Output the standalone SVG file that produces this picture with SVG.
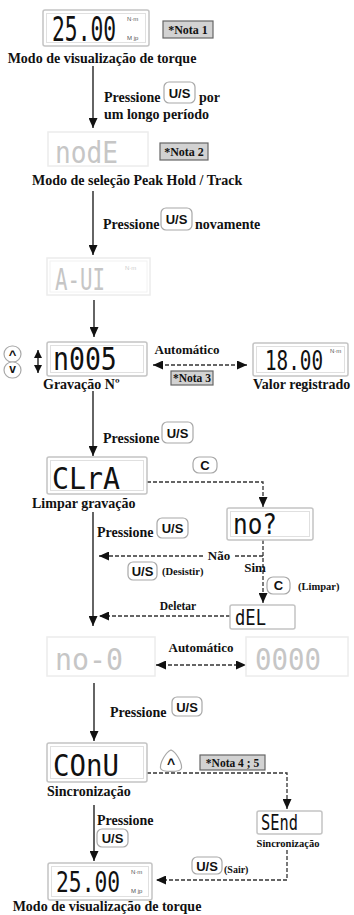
<svg xmlns="http://www.w3.org/2000/svg" width="354" height="915" viewBox="0 0 354 915">
<style>
.bg{fill:#fff}
.lcd{fill:#fff;stroke:#c4c4c4;stroke-width:1.5}
.lcdi{fill:none;stroke:#e0e0e0;stroke-width:1}
.lcdf{fill:#fff;stroke:#ececec;stroke-width:1.5}
.seg{font-family:"DejaVu Sans Mono",monospace;fill:#111}
.segf{font-family:"DejaVu Sans Mono",monospace;fill:#c6c6c6}
.unit{font-family:"Liberation Sans",sans-serif;font-size:6px;fill:#555}
.lbl{font-family:"Liberation Serif",serif;font-weight:bold;font-size:14px;fill:#111}
.sm{font-family:"Liberation Serif",serif;font-weight:bold;font-size:10.5px;fill:#111}
.note{fill:#d2d2d2;stroke:#666;stroke-width:1.2}
.nt{font-family:"Liberation Serif",serif;font-weight:bold;font-size:12px;fill:#111;text-anchor:middle}
.key{fill:#fff;stroke:#a8a8a8;stroke-width:1.2}
.kt{font-family:"Liberation Sans",sans-serif;font-weight:bold;font-size:13px;fill:#111;text-anchor:middle}
.solid{stroke:#111;stroke-width:1.3;fill:none}
.dash{stroke:#333;stroke-width:1.3;stroke-dasharray:4 2;fill:none}
</style>
<defs>
<marker id="ah" markerUnits="userSpaceOnUse" markerWidth="10" markerHeight="9" refX="10" refY="4.5" orient="auto-start-reverse">
<path d="M0,0 L10,4.5 L0,9 z" fill="#111"/>
</marker>
<marker id="ahs" markerUnits="userSpaceOnUse" markerWidth="8" markerHeight="8" refX="8" refY="4" orient="auto-start-reverse">
<path d="M0,0 L8,4 L0,8 z" fill="#111"/>
</marker>
</defs>
<rect class="bg" x="0" y="0" width="354" height="915"/>

<g id="connectors">
<line class="solid" x1="93" y1="66" x2="93" y2="128" marker-end="url(#ah)"/>
<line class="solid" x1="93" y1="191" x2="93" y2="255" marker-end="url(#ah)"/>
<line class="solid" x1="94" y1="300" x2="94" y2="337" marker-end="url(#ah)"/>
<line class="solid" x1="38" y1="350" x2="38" y2="373" marker-start="url(#ahs)" marker-end="url(#ahs)"/>
<line class="dash" x1="153" y1="365" x2="247" y2="365" marker-start="url(#ah)" marker-end="url(#ah)"/>
<line class="solid" x1="93" y1="391" x2="93" y2="456" marker-end="url(#ah)"/>
<path class="dash" d="M147,482 H263 V507" marker-end="url(#ah)"/>
<line class="solid" x1="93" y1="512" x2="93" y2="626" marker-end="url(#ah)"/>
<line class="dash" x1="263" y1="540" x2="263" y2="603" marker-end="url(#ah)"/>
<line class="dash" x1="263" y1="556" x2="99" y2="556" marker-end="url(#ah)"/>
<line class="dash" x1="230" y1="616" x2="99" y2="616" marker-end="url(#ah)"/>
<line class="dash" x1="156" y1="665" x2="246" y2="665" marker-start="url(#ah)" marker-end="url(#ah)"/>
<line class="solid" x1="94" y1="683" x2="94" y2="741" marker-end="url(#ah)"/>
<path class="dash" d="M147,773 H287 V809" marker-end="url(#ah)"/>
<line class="solid" x1="94" y1="805" x2="94" y2="861" marker-end="url(#ah)"/>
<path class="dash" d="M287,850 V880 H156" marker-end="url(#ah)"/>

<text class="lbl" x="104" y="102">Pressione</text>
<rect class="key" x="164" y="82" width="31" height="21" rx="5"/>
<text class="kt" x="179.5" y="97.5">U/S</text>
<text class="lbl" x="199" y="102">por</text>
<text class="lbl" x="104" y="119">um longo período</text>

<text class="lbl" x="103" y="229">Pressione</text>
<rect class="key" x="161" y="208" width="31" height="22" rx="5"/>
<text class="kt" x="176.5" y="224">U/S</text>
<text class="lbl" x="195" y="229">novamente</text>

<text class="lbl" x="187" y="354" text-anchor="middle" style="font-size:13px">Automático</text>

<text class="lbl" x="103" y="443">Pressione</text>
<rect class="key" x="162" y="422" width="31" height="21" rx="5"/>
<text class="kt" x="177.5" y="437.5">U/S</text>

<rect class="key" x="193" y="457" width="24" height="16" rx="6"/>
<text class="kt" x="205" y="469.5">C</text>

<text class="lbl" x="97" y="537">Pressione</text>
<rect class="key" x="157" y="518" width="31" height="20" rx="5"/>
<text class="kt" x="172.5" y="533">U/S</text>

<rect x="205" y="548" width="28" height="14" fill="#fff"/>
<text class="lbl" x="219" y="560" text-anchor="middle" style="font-size:13px">Não</text>
<rect class="key" x="128" y="562" width="29" height="18" rx="5"/>
<text class="kt" x="142.5" y="576">U/S</text>
<text class="sm" x="162" y="575">(Desistir)</text>
<text class="lbl" x="255" y="572" text-anchor="middle" style="font-size:13px">Sim</text>
<rect class="key" x="267" y="577" width="23" height="17" rx="6"/>
<text class="kt" x="278.5" y="590">C</text>
<text class="sm" x="298" y="590">(Limpar)</text>
<text class="lbl" x="178" y="610" text-anchor="middle" style="font-size:11.5px">Deletar</text>

<text class="lbl" x="201" y="652" text-anchor="middle" style="font-size:13px">Automático</text>

<text class="lbl" x="110" y="717">Pressione</text>
<rect class="key" x="172" y="697" width="30" height="19" rx="5"/>
<text class="kt" x="187" y="711.5">U/S</text>

<path class="key" d="M171,750 C176,752 182,762 181.5,768 C181,772.5 161,772.5 160.5,768 C160,762 166,752 171,750 Z"/>
<text class="kt" x="171" y="769" style="font-size:14px">^</text>

<text class="lbl" x="97" y="825">Pressione</text>
<rect class="key" x="97" y="829" width="31" height="18" rx="5"/>
<text class="kt" x="112.5" y="843">U/S</text>

<rect class="key" x="192" y="857" width="30" height="17" rx="5"/>
<text class="kt" x="207" y="870.5">U/S</text>
<text class="sm" x="224" y="873" style="font-size:10px">(Sair)</text>
</g>

<g id="n-torque1">
<rect class="lcd" x="43" y="10" width="106" height="36" rx="2"/>
<rect class="lcdi" x="46.5" y="13.5" width="99" height="29"/>
<text class="seg" transform="translate(52,41) scale(1,1.6)" font-size="21.3">25.00</text>
<text class="unit" x="127" y="21">N·m</text>
<text class="unit" x="127" y="40">M jp</text>
<text class="lbl" x="102" y="63" text-anchor="middle">Modo de visualização de torque</text>
</g>
<g id="n-nota1">
<rect class="note" x="163" y="21" width="50" height="17"/>
<text class="nt" x="188" y="34">*Nota 1</text>
</g>

<g id="n-mode">
<rect class="lcdf" x="48" y="132" width="100" height="34"/>
<text class="segf" x="55" y="163" font-size="30" textLength="63" lengthAdjust="spacingAndGlyphs">nodE</text>
<text class="lbl" x="32" y="185">Modo de seleção Peak Hold / Track</text>
</g>
<g id="n-nota2">
<rect class="note" x="160" y="143" width="48" height="17"/>
<text class="nt" x="184" y="156">*Nota 2</text>
</g>

<g id="n-aui">
<rect class="lcdf" x="47" y="258" width="103" height="37"/>
<rect fill="none" stroke="#f2f2f2" x="50" y="261" width="97" height="31"/>
<text class="segf" transform="translate(55,290) scale(1,1.45)" font-size="20.8">A-UI</text>
<text class="unit" x="125" y="270" style="fill:#ccc">N·m</text>
</g>

<g id="n-record">
<rect class="lcd" x="47" y="342" width="100" height="34" rx="2"/>
<rect class="lcdi" x="50.5" y="345.5" width="93" height="27"/>
<text class="seg" transform="translate(53,370) scale(1,1.2)" font-size="26.5">n005</text>
<text class="lbl" x="43" y="389">Gravação Nº</text>
<rect class="key" x="4" y="346" width="17" height="16" rx="8"/>
<text class="kt" x="12.5" y="359" style="font-size:13px">^</text>
<rect class="key" x="4" y="362" width="17" height="16" rx="8"/>
<text class="kt" x="12.5" y="373" style="font-size:12px">v</text>
</g>

<g id="n-nota3">
<rect class="note" x="171" y="371" width="42" height="14"/>
<text class="nt" x="192" y="382" style="font-size:11.5px">*Nota 3</text>
</g>

<g id="n-value">
<rect class="lcd" x="253" y="343" width="95" height="33" rx="2"/>
<rect class="lcdi" x="256.5" y="346.5" width="88" height="26"/>
<text class="seg" transform="translate(265,370) scale(1,1.4)" font-size="19.3">18.00</text>
<text class="unit" x="330" y="353">N·m</text>
<text class="lbl" x="253" y="389">Valor registrado</text>
</g>

<g id="n-clear">
<rect class="lcd" x="47" y="457" width="100" height="37" rx="2"/>
<rect class="lcdi" x="50.5" y="460.5" width="93" height="30"/>
<text class="seg" x="52" y="489" font-size="30" textLength="68" lengthAdjust="spacingAndGlyphs">CLrA</text>
<text class="lbl" x="32" y="508">Limpar gravação</text>
</g>

<g id="n-no">
<rect class="lcd" x="227" y="508" width="86" height="32" rx="2"/>
<rect class="lcdi" x="230.5" y="511.5" width="79" height="25"/>
<text class="seg" x="233" y="534" font-size="28" textLength="44" lengthAdjust="spacingAndGlyphs">no?</text>
</g>

<g id="n-del">
<rect class="lcd" x="230" y="605" width="65" height="24" rx="2"/>
<text class="seg" x="235" y="625" font-size="22" textLength="31" lengthAdjust="spacingAndGlyphs">dEL</text>
</g>

<g id="n-no0">
<rect class="lcdf" x="47" y="637" width="108" height="39"/>
<text class="segf" x="55" y="670" font-size="30" textLength="68" lengthAdjust="spacingAndGlyphs">no-0</text>
</g>

<g id="n-zero">
<rect class="lcdf" x="246" y="637" width="102" height="39"/>
<text class="segf" x="255" y="670" font-size="30" textLength="66" lengthAdjust="spacingAndGlyphs">0000</text>
</g>

<g id="n-conv">
<rect class="lcd" x="47" y="743" width="100" height="39" rx="2"/>
<rect class="lcdi" x="50.5" y="746.5" width="93" height="32"/>
<text class="seg" x="53" y="776" font-size="30" textLength="66" lengthAdjust="spacingAndGlyphs">COnU</text>
<text class="lbl" x="47" y="796">Sincronização</text>
</g>

<g id="n-nota45">
<rect class="note" x="200" y="755" width="65" height="15"/>
<text class="nt" x="232.5" y="767" style="font-size:11.5px">*Nota  4 ; 5</text>
</g>

<g id="n-send">
<rect class="lcd" x="257" y="811" width="65" height="23" rx="2"/>
<text class="seg" x="261" y="830" font-size="22" textLength="37" lengthAdjust="spacingAndGlyphs">SEnd</text>
<text class="sm" x="288" y="847" text-anchor="middle" style="font-size:10.5px">Sincronização</text>
</g>

<g id="n-torque2">
<rect class="lcd" x="48" y="863" width="104" height="37" rx="2"/>
<rect class="lcdi" x="51.5" y="866.5" width="97" height="30"/>
<text class="seg" transform="translate(56,892) scale(1,1.3)" font-size="21.3">25.00</text>
<text class="unit" x="131" y="874">N·m</text>
<text class="unit" x="131" y="893">M jp</text>
<text class="lbl" x="107" y="911" text-anchor="middle">Modo de visualização de torque</text>
</g>
</svg>
